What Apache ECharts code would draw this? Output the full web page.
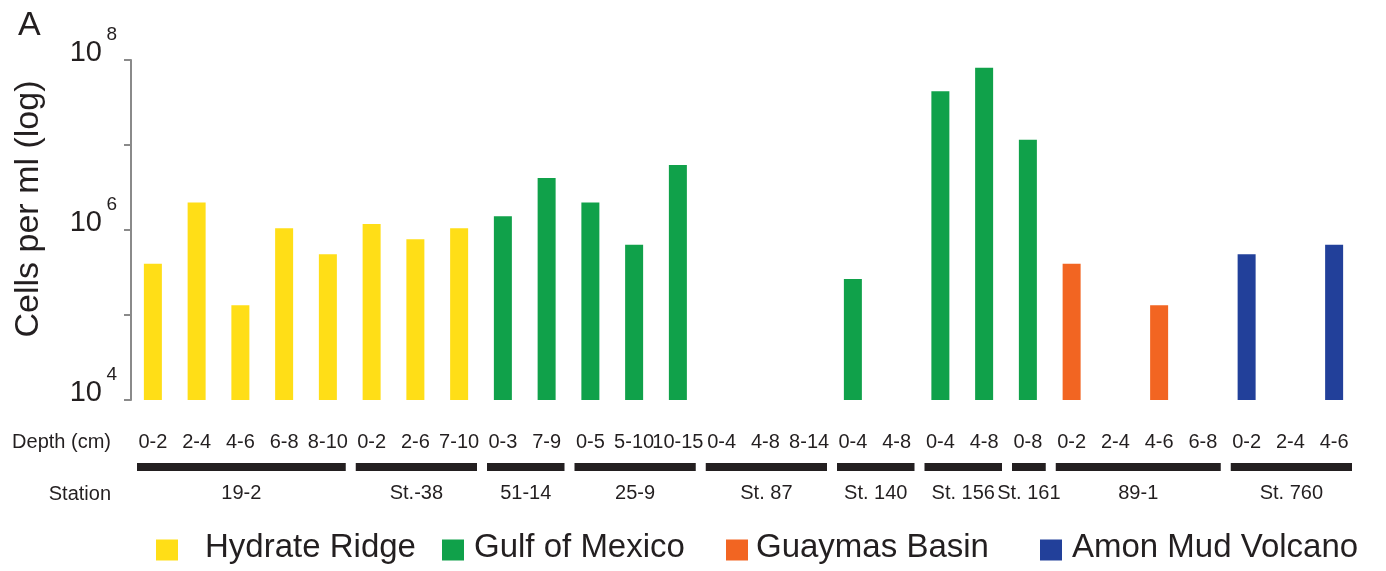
<!DOCTYPE html>
<html>
<head>
<meta charset="utf-8">
<script src="https://cdn.jsdelivr.net/npm/echarts@6/dist/echarts.min.js"></script>
<style>
  html, body { margin: 0; padding: 0; background: #ffffff; }
  #chart { width: 1386px; height: 571px; }
</style>
</head>
<body>
<div id="chart"></div>
<script>
// Sediment depth intervals (cm), one per bar slot
const depthLabels = ['0-2', '2-4', '4-6', '6-8', '8-10',
  '0-2', '2-6', '7-10',
  '0-3', '7-9',
  '0-5', '5-10', '10-15',
  '0-4', '4-8', '8-14',
  '0-4', '4-8',
  '0-4', '4-8',
  '0-8',
  '0-2', '2-4', '4-6', '6-8',
  '0-2', '2-4', '4-6'];

// Stations and how many depth intervals each one spans
const stationNames = ['19-2', 'St.-38', '51-14', '25-9', 'St. 87', 'St. 140', 'St. 156', 'St. 161', '89-1', 'St. 760'];
const stationSizes = [5, 3, 2, 3, 3, 2, 2, 1, 4, 3];

const regionNames = ['Hydrate Ridge', 'Gulf of Mexico', 'Guaymas Basin', 'Amon Mud Volcano'];

// Cell counts (cells per ml), null where a region has no sample
const hydrateRidge = [4.0e5, 2.1e6, 1.3e5, 1.05e6, 5.2e5, 1.18e6, 7.8e5, 1.05e6,
  null, null, null, null, null, null, null, null, null, null, null, null,
  null, null, null, null, null, null, null, null];
const gulfOfMexico = [null, null, null, null, null, null, null, null,
  1.45e6, 4.1e6, 2.1e6, 6.7e5, 5.8e6, null, null, null, 2.65e5, null, 4.3e7, 8.1e7,
  1.15e7, null, null, null, null, null, null, null];
const guaymasBasin = [null, null, null, null, null, null, null, null,
  null, null, null, null, null, null, null, null, null, null, null, null,
  null, 4.0e5, null, 1.3e5, null, null, null, null];
const amonMudVolcano = [null, null, null, null, null, null, null, null,
  null, null, null, null, null, null, null, null, null, null, null, null,
  null, null, null, null, null, 5.2e5, null, 6.7e5];

const regionColors = ['#FFDE17', '#10A14A', '#F26522', '#22409A'];
const ink = '#231F20';
const axisGray = '#8A8A8A';
const fontFamily = '"Liberation Sans", Arial, Helvetica, sans-serif';

// Station spans as [first index, last index, baseline value]
const stationSpans = [];
let start = 0;
stationSizes.forEach(function (n) {
  stationSpans.push([start, start + n - 1, 1e4]);
  start += n;
});

const regionData = [hydrateRidge, gulfOfMexico, guaymasBasin, amonMudVolcano];

const barSeries = regionNames.map(function (name, i) {
  return {
    name: name,
    type: 'bar',
    data: regionData[i],
    barWidth: 18,
    barGap: '-100%',
    itemStyle: { color: regionColors[i] },
    clip: true,
    silent: true
  };
});

// Black span bar under each station's depth intervals, with the station name below
const stationSeries = {
  type: 'custom',
  name: 'stations',
  silent: true,
  clip: false,
  data: stationSpans,
  encode: { x: [0, 1], y: 2 },
  renderItem: function (params, api) {
    const band = api.size([1, 0])[0];
    const p0 = api.coord([api.value(0), api.value(2)]);
    const p1 = api.coord([api.value(1), api.value(2)]);
    const x0 = p0[0] - band / 2 + 6;
    const x1 = p1[0] + band / 2 - 4;
    const y = p0[1];
    return {
      type: 'group',
      children: [
        {
          type: 'rect',
          shape: { x: x0, y: y + 63, width: x1 - x0, height: 8 },
          style: { fill: ink }
        },
        {
          type: 'text',
          style: {
            text: stationNames[params.dataIndex],
            x: (x0 + x1) / 2,
            y: y + 93,
            align: 'center',
            verticalAlign: 'middle',
            font: '20px ' + fontFamily,
            fill: ink
          }
        }
      ]
    };
  }
};

// One legend block per region so each entry sits at its own place
const legendLeft = [156, 442, 726, 1040];
const legendTextPad = [22, 5, 3, 5];
const legends = regionNames.map(function (name, i) {
  return {
    data: [name],
    left: legendLeft[i],
    top: 531,
    padding: 0,
    itemWidth: 22,
    itemHeight: 21,
    icon: 'rect',
    selectedMode: false,
    formatter: '{t|' + name + '}',
    textStyle: {
      color: ink,
      fontFamily: fontFamily,
      fontSize: 33,
      rich: {
        t: { fontSize: 33, fontFamily: fontFamily, color: ink, padding: [0, 0, 5, legendTextPad[i]] }
      }
    }
  };
});

function exponentOf(v) {
  return Math.round(Math.log10(v));
}

const chart = echarts.init(document.getElementById('chart'), null, { renderer: 'canvas' });

chart.setOption({
  animation: false,
  backgroundColor: '#ffffff',
  grid: { left: 131, top: 60, width: 1225, height: 340, containLabel: false },
  legend: legends,
  xAxis: {
    type: 'category',
    data: depthLabels,
    axisLine: { show: false },
    axisTick: { show: false },
    axisLabel: {
      interval: 0,
      margin: 32,
      color: ink,
      fontFamily: fontFamily,
      fontSize: 20
    }
  },
  yAxis: [
    {
      // main log axis: line, decade ticks and the base "10" of each label
      type: 'log',
      logBase: 10,
      min: 1e4,
      max: 1e8,
      position: 'left',
      splitLine: { show: false },
      axisLine: { show: true, lineStyle: { color: axisGray, width: 2 } },
      axisTick: { show: true, inside: false, length: 7, lineStyle: { color: axisGray, width: 2 } },
      axisLabel: {
        margin: 29,
        color: ink,
        fontFamily: fontFamily,
        fontSize: 29,
        lineHeight: 15,
        verticalAlign: 'bottom',
        formatter: function (v) {
          return exponentOf(v) % 2 === 0 ? '10' : '';
        }
      }
    },
    {
      // same scale, only carries the raised exponent of each label
      type: 'log',
      logBase: 10,
      min: 1e4,
      max: 1e8,
      position: 'left',
      offset: 0,
      splitLine: { show: false },
      axisLine: { show: false },
      axisTick: { show: false },
      axisLabel: {
        margin: 14,
        color: ink,
        fontFamily: fontFamily,
        fontSize: 19,
        lineHeight: 50,
        verticalAlign: 'bottom',
        formatter: function (v) {
          const e = exponentOf(v);
          return e % 2 === 0 ? String(e) : '';
        }
      }
    }
  ],
  graphic: [
    {
      type: 'text', left: 18, top: 9,
      style: { text: 'A', font: '34px ' + fontFamily, fill: ink }
    },
    {
      type: 'text', x: 29, y: 209, rotation: Math.PI / 2,
      style: { text: 'Cells per ml (log)', font: '34px ' + fontFamily, fill: ink, align: 'center', verticalAlign: 'middle' }
    },
    {
      type: 'text', x: 111, y: 442,
      style: { text: 'Depth (cm)', font: '20px ' + fontFamily, fill: ink, align: 'right', verticalAlign: 'middle' }
    },
    {
      type: 'text', x: 111, y: 494,
      style: { text: 'Station', font: '20px ' + fontFamily, fill: ink, align: 'right', verticalAlign: 'middle' }
    }
  ],
  series: barSeries.concat([stationSeries])
});
</script>
</body>
</html>
